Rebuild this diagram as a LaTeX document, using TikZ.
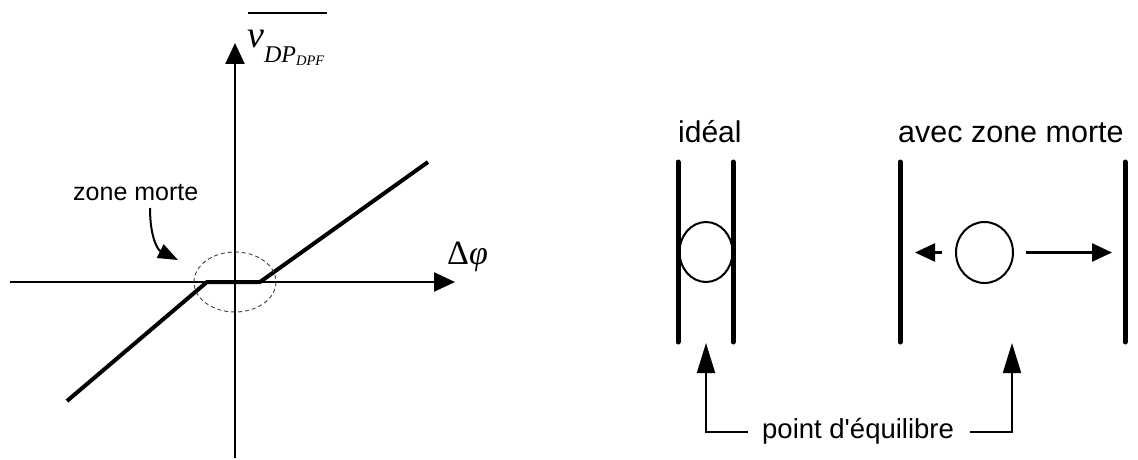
\documentclass[tikz,border=0pt]{standalone}
\usepackage{fontspec}
\setmainfont{Liberation Sans}[Ligatures=TeXOff]
\newfontfamily\tms{Liberation Serif}
\usetikzlibrary{arrows.meta,shapes.geometric}
\begin{document}
\begin{tikzpicture}[x=1pt,y=-1pt,
  axis/.style={line width=2.5pt,-{Triangle[length=21pt,width=19pt]}},
  curve/.style={line width=4pt,line join=round},
  bar/.style={line width=5pt,line cap=round},
  ball/.style={draw,ellipse,line width=2pt,inner sep=0pt},
  conn/.style={line width=2pt,-{Triangle[length=30pt,width=18pt]}},
  push/.style={line width=2.5pt,-{Triangle[length=20pt,width=18pt]}},
  lbl/.style={inner sep=0pt,anchor=base west}]
\useasboundingbox (0,0) rectangle (1138,460);

% ---- left: characteristic ----
\coordinate (xs) at (10,282);
\coordinate (xe) at (455,282);
\coordinate (ys) at (235,458);
\coordinate (ye) at (235,43);
\draw[axis] (xs) -- (xe);
\draw[axis] (ys) -- (ye);

\draw[curve] (67,401) -- (207,282) -- (260,282) -- (428,162);

\draw[dashed,dash pattern=on 4pt off 3pt,line width=0.9pt,black!75]
  (235,282) ellipse [x radius=41, y radius=30];

\node[lbl,font=\fontsize{25}{25}\selectfont] (zm) at (73,200) {zone morte};
\coordinate (zs) at (150,208);
\coordinate (zt) at (178,260);
\draw[line width=2pt,-{Triangle[length=20pt,width=15pt]}]
  (zs) .. controls (150,238) and (158,250) .. (zt);

\node[lbl] (vl) at (247,48)
  {\tms\itshape\fontsize{38}{38}\selectfont v\raisebox{-15pt}{\fontsize{24}{24}\selectfont DP\raisebox{-3pt}{\fontsize{14.5}{14.5}\selectfont DPF}}};
\coordinate (ol) at (248,13);
\coordinate (or) at (327,13);
\draw[line width=2pt] (ol) -- (or);

\node[lbl] (dphi) at (447,264) {\tms\fontsize{34}{34}\selectfont Δ\itshape φ};

% ---- right: ideal ----
\node[lbl,font=\fontsize{30}{30}\selectfont] (id) at (678,142) {idéal};
\draw[bar] (678,162) -- (678,342);
\draw[bar] (733,162) -- (733,342);
\node[ball,minimum width=53pt,minimum height=60pt] (b1) at (706,252) {};

% ---- right: avec zone morte ----
\node[lbl,font=\fontsize{30.5}{30.5}\selectfont] (av) at (898,142) {avec zone morte};
\draw[bar] (900,162) -- (900,342);
\draw[bar] (1125,162) -- (1125,342);
\node[ball,minimum width=57pt,minimum height=61pt] (b2) at (984.5,252.5) {};
\coordinate (lt) at (915,252.5);
\coordinate (rt) at (1112,252.5);
\draw[push] ([xshift=-13pt]b2.west) -- (lt);
\draw[push] ([xshift=12pt]b2.east) -- (rt);

% ---- point d'equilibre ----
\node[lbl,font=\fontsize{27.5}{27.5}\selectfont] (pe) at (762,438) {point d'équilibre};
\coordinate (ta) at (706,343);
\coordinate (tb) at (1012,343);
\coordinate (pl) at (748,432);
\coordinate (pr) at (970,432);
\draw[conn] (pl) -| (ta);
\draw[conn] (pr) -| (tb);
\end{tikzpicture}
\end{document}
